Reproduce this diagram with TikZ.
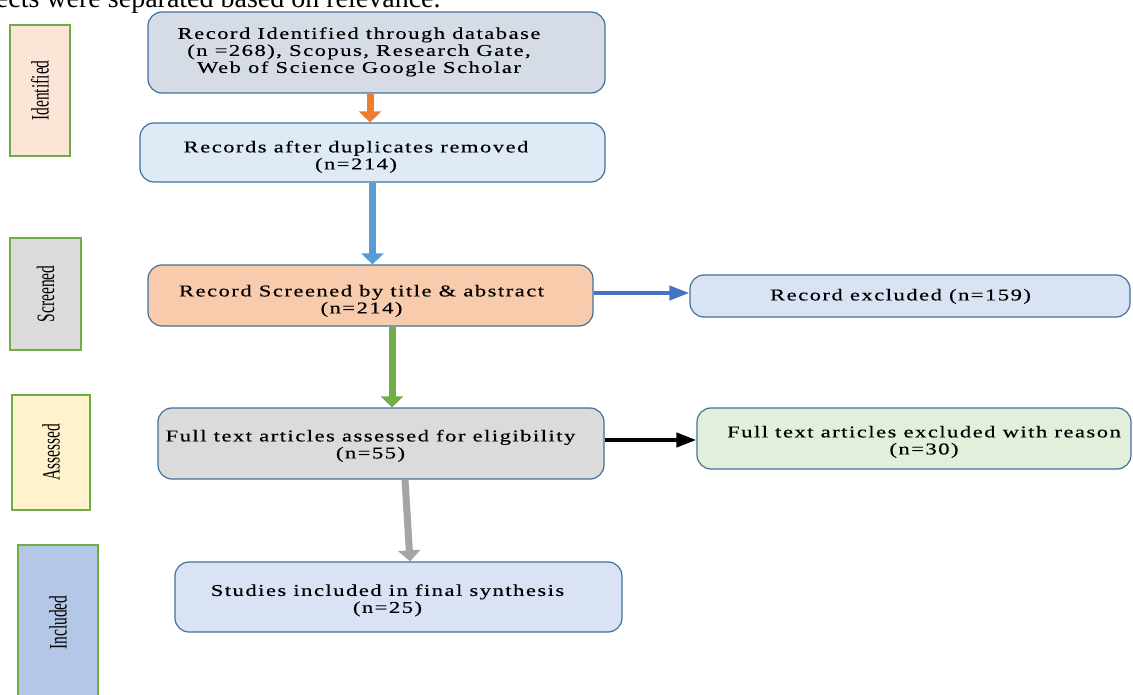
\documentclass[tikz,border=0pt]{standalone}
\usepackage{fontspec}
\setmainfont{Liberation Serif}
\newfontfamily\boxfont[FakeStretch=1.37,LetterSpace=9,FakeBold=0.4]{Liberation Serif}
\newfontfamily\sidefont[FakeStretch=0.62]{Liberation Serif}
\usetikzlibrary{arrows.meta}
\definecolor{bordblue}{HTML}{41719C}
\definecolor{bordgreen}{HTML}{70AD47}
\definecolor{fillA}{HTML}{D6DCE5}
\definecolor{fillB}{HTML}{DEEBF7}
\definecolor{fillC}{HTML}{F8CBAD}
\definecolor{fillD}{HTML}{DAE3F3}
\definecolor{fillE}{HTML}{DBDBDB}
\definecolor{fillF}{HTML}{E2EFDA}
\definecolor{sideA}{HTML}{FBE5D6}
\definecolor{sideB}{HTML}{DBDBDB}
\definecolor{sideC}{HTML}{FFF2CC}
\definecolor{sideD}{HTML}{B4C7E7}
\definecolor{arrOrange}{HTML}{ED7D31}
\definecolor{arrBlue}{HTML}{5B9BD5}
\definecolor{arrBlueB}{HTML}{4472C4}
\definecolor{arrGreen}{HTML}{70AD47}
\definecolor{arrGrey}{HTML}{A5A5A5}
% #1 left pad, #2 right pad, #3 downward shift, #4 text
\newcommand{\padtxt}[4]{\hspace*{#1pt}\raisebox{-#3pt}[\height][\depth]{\begin{tabular}{@{}c@{}}#4\end{tabular}}\hspace*{#2pt}}
\begin{document}
\begin{tikzpicture}[x=1pt,y=-1pt,
  flowbox/.style={draw=bordblue, line width=1.2pt, rounded corners=14pt, inner sep=0pt,
    font=\boxfont\fontsize{16.5}{17}\selectfont, text=black},
  sidebox/.style={draw=bordgreen, line width=1.3pt, inner sep=0pt,
    font=\sidefont\fontsize{25}{27}\selectfont},
  bigarrow/.style={line width=7pt, -{Triangle[width=22pt,length=11pt]}},
  thinarrow/.style={line width=4pt, -{Triangle[width=14pt,length=20pt]}}
]
\useasboundingbox (0,0) rectangle (1133,695);
\fill[white] (0,0) rectangle (1133,695);
\node[anchor=base west, font=\fontsize{28}{30}\selectfont, inner sep=0pt] (toptext) at (-12,8) {jects were separated based on relevance.};

% side labels
\node[sidebox, fill=sideA, minimum width=60pt, minimum height=131pt] (sidI) at (40,90.5) {\rotatebox{90}{Identified}};
\node[sidebox, fill=sideB, minimum width=71pt, minimum height=112pt] (sidS) at (45.5,294) {\rotatebox{90}{Screened}};
\node[sidebox, fill=sideC, minimum width=78pt, minimum height=115pt] (sidA) at (51,452.5) {\rotatebox{90}{Assessed}};
\node[sidebox, fill=sideD, minimum width=80pt, minimum height=155pt] (sidN) at (58,622.5) {\rotatebox{90}{Included}};

% flow boxes
\node[flowbox, fill=fillA, minimum width=457pt, minimum height=81pt] (b1) at (376.5,52.5)
  {\padtxt{0}{35}{0}{Record Identified through database\\(n =268), Scopus, Research Gate,\\Web of Science Google Scholar}};
\node[flowbox, fill=fillB, minimum width=465pt, minimum height=59pt] (b2) at (372.5,152.5)
  {\padtxt{0}{33}{5}{Records after duplicates removed\\(n=214)}};
\node[flowbox, fill=fillC, minimum width=445pt, minimum height=61pt] (b3) at (370.5,295.5)
  {\padtxt{0}{18}{6}{Record Screened by title \& abstract\\(n=214)}};
\node[flowbox, fill=fillD, minimum width=440pt, minimum height=42pt] (b4) at (910,296)
  {\padtxt{0}{19}{1}{Record excluded (n=159)}};
\node[flowbox, fill=fillE, minimum width=446pt, minimum height=71pt] (b5) at (381,443.5)
  {\padtxt{0}{21}{3}{Full text articles assessed for eligibility\\(n=55)}};
\node[flowbox, fill=fillF, minimum width=434pt, minimum height=61pt] (b6) at (914,438.5)
  {\padtxt{20}{0}{4}{Full text articles excluded with reason\\(n=30)}};
\node[flowbox, fill=fillD, minimum width=447pt, minimum height=70pt] (b7) at (398.5,597)
  {\padtxt{0}{22}{4}{Studies included in final synthesis\\(n=25)}};

% connectors
\draw[bigarrow, arrOrange] ([xshift=-6.5pt]b1.south) -- ([xshift=-6.5pt]b1.south |- b2.north);
\draw[bigarrow, arrBlue] (b2.south) -- (b2.south |- b3.north);
\draw[thinarrow, arrBlueB] ([yshift=2.5pt]b3.east) -- ([yshift=2.5pt]b3.east -| b4.west);
\draw[bigarrow, arrGreen] ([xshift=21.5pt]b3.south) -- ([xshift=21.5pt]b3.south |- b5.north);
\draw[thinarrow, black] ([yshift=3.5pt]b5.east) -- ([yshift=3.5pt]b5.east -| b6.west);
\draw[bigarrow, arrGrey] ([xshift=24pt]b5.south) -- ([xshift=11.5pt]b7.north);
\end{tikzpicture}
\end{document}
